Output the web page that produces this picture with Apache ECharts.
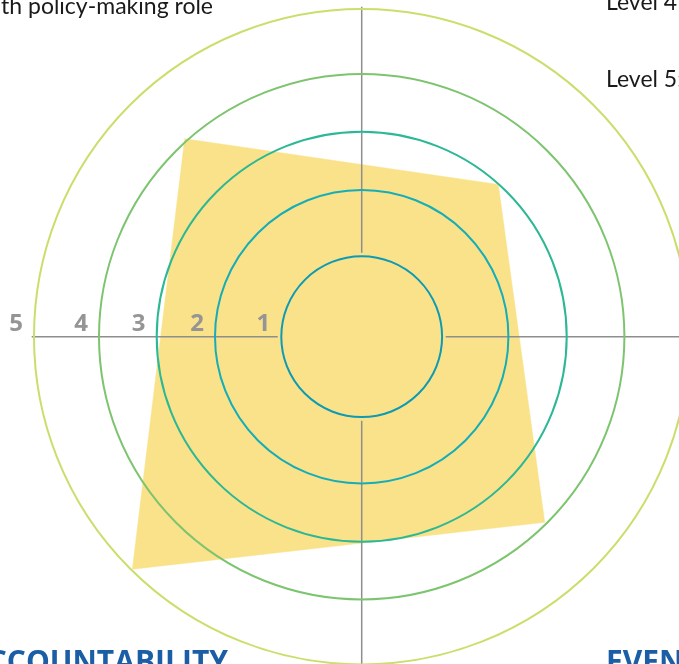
<!DOCTYPE html>
<html><head><meta charset="utf-8">
<script src="https://cdn.jsdelivr.net/npm/echarts@6/dist/echarts.min.js"></script>
<style>html,body{margin:0;padding:0;background:#fff;overflow:hidden}#c{width:679px;height:664px}</style>
</head><body><div id="c"></div>
<script>
// ---- data ----
const levels = [1, 2, 3, 4, 5];
const levelLabels = ['1', '2', '3', '4', '5'];
const profileLevels = [4, 3, 3.92, 5];          // radar values (levels)
const profileAngles = [131.8, 48.1, 314.6, 225.4]; // direction of each vertex (deg, ccw from right)
const topLeftText = 'with policy-making role';
const topRightTexts = ['Level 4', 'Level 5:'];
const bottomTitles = ['ACCOUNTABILITY', 'EVEN'];

// ---- layout / style ----
const CX = 361.7, CY = 336.7;
const ringRadii = [80.4, 146.7, 205, 262.7, 327.7];
const ringColors = ['#0d9ab5', '#14adb8', '#2cb795', '#7dc46f', '#c9df6c'];
const R0 = 21.3, RSTEP = 61.06;
const FONT = 'Lato, "Open Sans", sans-serif';
const BOLDFONT = '"Open Sans", Lato, sans-serif';

const chart = echarts.init(document.getElementById('c'), null, { renderer: 'canvas' });

const polar = [], angleAxis = [], radiusAxis = [];
const hiddenRadius = (i, extra) => Object.assign({
  polarIndex: i, type: 'value', show: true,
  axisLine: { show: false }, axisTick: { show: false }, axisLabel: { show: false },
  splitLine: { show: false }, splitArea: { show: false }
}, extra || {});

// rings
levels.forEach((lv, i) => {
  polar.push({ center: [CX, CY], radius: ringRadii[i] });
  angleAxis.push({
    polarIndex: i, type: 'value', min: 0, max: 360, z: 10,
    axisLine: { show: true, lineStyle: { color: ringColors[i], width: 2 } },
    axisTick: { show: false }, axisLabel: { show: false },
    splitLine: { show: false }, splitArea: { show: false }
  });
  radiusAxis.push(hiddenRadius(i));
});

// crosshair
const crossIdx = polar.length;
polar.push({ center: [CX, CY], radius: [84, 330] });
angleAxis.push({
  polarIndex: crossIdx, type: 'value', min: 0, max: 360, interval: 90, startAngle: 0, z: 10,
  axisLine: { show: false }, axisTick: { show: false }, axisLabel: { show: false },
  splitLine: { show: true, lineStyle: { color: '#8e8e8e', width: 1.5 } }, splitArea: { show: false }
});
radiusAxis.push(hiddenRadius(crossIdx));

// profile polar (linear level scale)
const profIdx = polar.length;
polar.push({ center: [CX, CY], radius: R0 + RSTEP * 5 });
angleAxis.push({
  polarIndex: profIdx, type: 'value', min: 0, max: 360, startAngle: 0, clockwise: false,
  axisLine: { show: false }, axisTick: { show: false }, axisLabel: { show: false },
  splitLine: { show: false }, splitArea: { show: false }
});
radiusAxis.push(hiddenRadius(profIdx, { min: -R0 / RSTEP, max: 5 }));

const profileData = profileLevels.map((v, i) => [v, profileAngles[i]]);
profileData.push(profileData[0].slice());

const graphics = [];
levels.forEach((lv, i) => {
  graphics.push({
    type: 'text', x: CX - ringRadii[i] - 18, y: 324.5, z: 20,
    style: { text: levelLabels[i], fontSize: 24, fontWeight: 'bold', fontFamily: BOLDFONT, fill: '#959595', align: 'center', verticalAlign: 'middle' }
  });
});
graphics.push({ type: 'text', x: 213, y: 6.5, z: 20,
  style: { text: topLeftText, fontSize: 23, fontFamily: FONT, fill: '#1a1a1a', align: 'right', verticalAlign: 'middle' } });
topRightTexts.forEach((t, i) => {
  graphics.push({ type: 'text', x: 606, y: [3, 80][i], z: 20,
    style: { text: t, fontSize: 23, fontFamily: FONT, fill: '#1a1a1a', align: 'left', verticalAlign: 'middle' } });
});
graphics.push({ type: 'text', x: 228, y: 663, z: 20,
  style: { text: bottomTitles[0], fontSize: 30, fontWeight: 'bold', fontFamily: BOLDFONT, fill: '#1b5ea6', align: 'right', verticalAlign: 'middle' } });
graphics.push({ type: 'text', x: 606, y: 663, z: 20,
  style: { text: bottomTitles[1], fontSize: 30, fontWeight: 'bold', fontFamily: BOLDFONT, fill: '#1b5ea6', align: 'left', verticalAlign: 'middle' } });

chart.setOption({
  animation: false,
  backgroundColor: '#ffffff',
  polar, angleAxis, radiusAxis,
  series: [{
    type: 'line', coordinateSystem: 'polar', polarIndex: profIdx,
    data: profileData, symbol: 'none', silent: true, z: 1,
    lineStyle: { width: 0.5, color: '#f9e28a' },
    areaStyle: { color: '#f9e28a', opacity: 1, origin: 'start' }
  }],
  graphic: graphics
});
</script>
</body></html>
